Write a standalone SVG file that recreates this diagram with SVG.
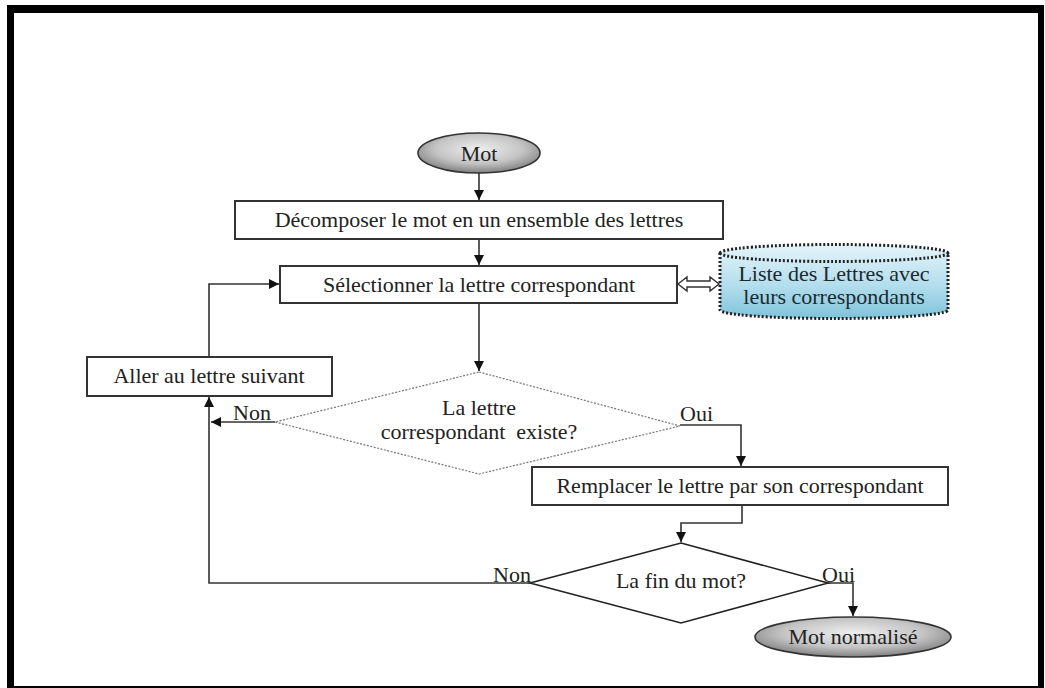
<svg xmlns="http://www.w3.org/2000/svg" width="1045" height="688" viewBox="0 0 1045 688">
  <style>
    .lbl { font-family: "Liberation Serif", "Times New Roman", serif; font-size: 22px; fill: #222222; }
    .mid { text-anchor: middle; }
    .box { fill: #ffffff; stroke: #333333; stroke-width: 2; }
    .wire { fill: none; stroke: #333333; stroke-width: 1.6; }
  </style>
  <defs>
    <marker id="arrow" viewBox="0 0 10 10" refX="10" refY="5" markerWidth="10" markerHeight="10" markerUnits="userSpaceOnUse" orient="auto">
      <path d="M0,0 L10,5 L0,10 z" fill="#111111"/>
    </marker>
    <radialGradient id="grayOval" cx="50%" cy="40%" r="60%">
      <stop offset="0%" stop-color="#eeeeee"/>
      <stop offset="60%" stop-color="#c4c4c4"/>
      <stop offset="100%" stop-color="#808080"/>
    </radialGradient>
    <linearGradient id="drum" x1="0" y1="0" x2="0" y2="1">
      <stop offset="0%" stop-color="#e4f4fa"/>
      <stop offset="55%" stop-color="#b3deed"/>
      <stop offset="100%" stop-color="#7fc3da"/>
    </linearGradient>
  </defs>

  <!-- page frame -->
  <rect x="0" y="0" width="1045" height="688" fill="#ffffff"/>
  <path d="M7,5 H1044 V688 H7 Z M14,13 V686 H1038 V13 Z" fill="#000000" fill-rule="evenodd"/>

  <!-- connectors -->
  <g id="connectors">
    <line class="wire" x1="479" y1="173" x2="479" y2="200" marker-end="url(#arrow)"/>
    <line class="wire" x1="479" y1="239" x2="479" y2="265" marker-end="url(#arrow)"/>
    <line class="wire" x1="479" y1="303" x2="479" y2="371" marker-end="url(#arrow)"/>
    <polyline class="wire" points="209,357 209,284 279,284" marker-end="url(#arrow)"/>
    <line class="wire" x1="275" y1="422" x2="211" y2="422" marker-end="url(#arrow)"/>
    <polyline class="wire" points="530,583 209,583 209,397" marker-end="url(#arrow)"/>
    <polyline class="wire" points="680,425 741,425 741,466" marker-end="url(#arrow)"/>
    <polyline class="wire" points="742,505 742,523 681,523 681,542" marker-end="url(#arrow)"/>
    <polyline class="wire" points="828,583 853,583 853,616" marker-end="url(#arrow)"/>
    <!-- two-way hollow link to the lookup table -->
    <polygon points="678,284 687,277 687,281 710,281 710,277 719,284 710,291 710,287 687,287 687,291" fill="#ffffff" stroke="#333333" stroke-width="1.4"/>
  </g>

  <g id="start">
    <ellipse cx="479" cy="153" rx="61" ry="20" fill="url(#grayOval)" stroke="#333333" stroke-width="1.6"/>
    <text class="lbl mid" x="479" y="161">Mot</text>
  </g>

  <g id="decompose">
    <rect class="box" x="235" y="201" width="488" height="38"/>
    <text class="lbl mid" x="479" y="227">Décomposer le mot en un ensemble des lettres</text>
  </g>

  <g id="select">
    <rect class="box" x="280" y="266" width="397" height="37"/>
    <text class="lbl mid" x="479" y="292">Sélectionner la lettre correspondant</text>
  </g>

  <g id="table">
    <path d="M720,253 A114,8.5 0 0 1 948,253 V310 A114,8.5 0 0 1 720,310 Z" fill="url(#drum)" stroke="#222222" stroke-width="3" stroke-dasharray="2,2"/>
    <path d="M720,253 A114,8.5 0 0 0 948,253" fill="none" stroke="#222222" stroke-width="3" stroke-dasharray="2,2"/>
    <text class="lbl mid" x="834" y="281" style="fill:#1c2a30">Liste des Lettres avec</text>
    <text class="lbl mid" x="834" y="304" style="fill:#1c2a30">leurs correspondants</text>
  </g>

  <g id="next">
    <rect class="box" x="87" y="357" width="245" height="39"/>
    <text class="lbl mid" x="209" y="383">Aller au lettre suivant</text>
  </g>

  <g id="exists">
    <polygon points="479,372 680,426 479,474 275,422" fill="#ffffff" stroke="#777777" stroke-width="1.2" stroke-dasharray="2,1.5"/>
    <text class="lbl mid" x="479" y="415">La lettre</text>
    <text class="lbl mid" x="479" y="439" xml:space="preserve">correspondant  existe?</text>
    <text class="lbl" x="233" y="420">Non</text>
    <text class="lbl" x="680" y="421">Oui</text>
  </g>

  <g id="replace">
    <rect class="box" x="532" y="467" width="416" height="38"/>
    <text class="lbl mid" x="740" y="493">Remplacer le lettre par son correspondant</text>
  </g>

  <g id="end-check">
    <polygon points="681,543 828,583 681,623 530,583" fill="#ffffff" stroke="#222222" stroke-width="1.6"/>
    <text class="lbl mid" x="681" y="588">La fin du mot?</text>
    <text class="lbl" x="493" y="582">Non</text>
    <text class="lbl" x="822" y="582">Oui</text>
  </g>

  <g id="finish">
    <ellipse cx="853" cy="637" rx="98" ry="20" fill="url(#grayOval)" stroke="#333333" stroke-width="1.6"/>
    <text class="lbl mid" x="853" y="644">Mot normalisé</text>
  </g>
</svg>
